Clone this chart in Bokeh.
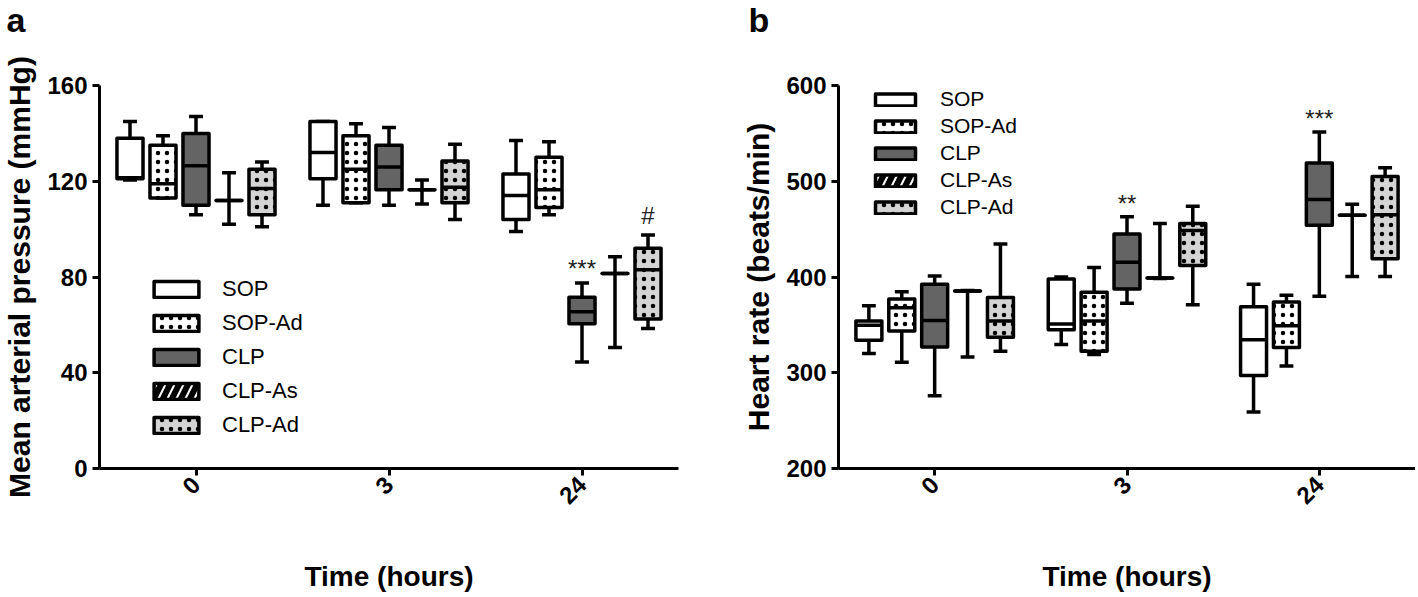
import math
from bokeh.plotting import figure
from bokeh.layouts import row, column
from bokeh.models import ColumnDataSource, FixedTicker, Legend, LegendItem
from bokeh.core.properties import value
from bokeh.embed import file_html
from bokeh.resources import INLINE

# ---------------- data ----------------
times = ["0", "3", "24"]
groups = ["SOP", "SOP-Ad", "CLP", "CLP-As", "CLP-Ad"]
panel_letters = ["a", "b"]

# five-number summaries (min, q1, median, q3, max) at 0, 3, 24 h
map_SOP = [(120.5, 121, 121.5, 138, 145), (110, 121, 132, 145, 145), (99, 104, 114, 123, 137)]
map_SOP_Ad = [(113, 113, 119, 135, 139), (111, 111, 125, 139, 144), (106, 109, 116.5, 130, 136.5)]
map_CLP = [(106, 110, 126.5, 140, 147), (110, 116.5, 126, 135, 142.5), (44.5, 60.5, 65.5, 71.5, 77.5)]
map_CLP_As = [(102, 112, 112, 112, 123.5), (110.5, 116.5, 116.5, 116.5, 120.5), (50.5, 81.5, 81.5, 81.5, 88.5)]
map_CLP_Ad = [(101, 106, 117, 125, 128), (104, 111, 117.5, 128.5, 135.5), (58.5, 62.5, 83, 92, 97.5)]

hr_SOP = [(320, 334, 349.5, 354, 370), (329.5, 345, 351, 398, 400), (259, 297, 334.5, 369, 392.5)]
hr_SOP_Ad = [(311, 343.5, 368, 377, 384.5), (319, 322.5, 354, 384, 410), (307, 326.5, 349, 374, 381)]
hr_CLP = [(276, 327, 354.5, 392.5, 401), (372.5, 387.5, 415.5, 445, 463), (380, 454, 481, 519, 551.5)]
hr_CLP_As = [(316.5, 385.5, 385.5, 385.5, 386), (398.5, 399, 399, 399, 456), (400.5, 464.5, 464.5, 464.5, 476)]
hr_CLP_Ad = [(322.5, 337, 354, 378.5, 434.5), (371, 412, 448.5, 456, 474), (400.5, 419, 465, 505, 514)]

map_ticks = [0, 40, 80, 120, 160]
hr_ticks = [200, 300, 400, 500, 600]

# significance marks: (time index, group, y, text)
map_sig = [(2, "CLP", 83.5, "***"), (2, "CLP-Ad", 105.5, "#")]
hr_sig = [(1, "CLP", 477, "**"), (2, "CLP", 566, "***")]

# ---------------- style ----------------
FONT = "Liberation Sans"
OFF = 0.171
BW = 0.135
CAP = 0.072
LW = 3.5
STRIP_H = 40

styles = {
    "SOP": dict(fill_color="white"),
    "SOP-Ad": dict(fill_color="white", hatch_pattern="dot", hatch_color="black", hatch_scale=9, hatch_weight=1.8),
    "CLP": dict(fill_color="#646464"),
    "CLP-As": dict(fill_color="white", hatch_pattern="right_diagonal_line", hatch_color="black", hatch_scale=18, hatch_weight=6),
    "CLP-Ad": dict(fill_color="#d4d4d4", hatch_pattern="dot", hatch_color="black", hatch_scale=9, hatch_weight=1.8),
}


def make_panel(stats, ylabel, yrange, yticks, w, h, bl, bt, br, bb, leg, sig):
    p = figure(width=w, height=h, x_range=(-0.5, 2.5), y_range=yrange, title=None,
               output_backend="svg", toolbar_location=None,
               min_border_left=bl, min_border_top=bt, min_border_right=br, min_border_bottom=bb)
    p.grid.visible = False
    p.outline_line_color = None
    p.background_fill_color = "white"

    rends = {}
    for gi, g in enumerate(groups):
        s = stats[g]
        xs = [i + (gi - 2) * OFF for i in range(len(times))]
        src = ColumnDataSource(dict(
            x=xs,
            lo=[v[0] for v in s], q1=[v[1] for v in s], med=[v[2] for v in s],
            q3=[v[3] for v in s], hi=[v[4] for v in s],
            cl=[x - CAP / 2 for x in xs], cr=[x + CAP / 2 for x in xs],
            bl=[x - BW / 2 for x in xs], br=[x + BW / 2 for x in xs],
        ))
        p.segment("x", "q3", "x", "hi", source=src, line_color="black", line_width=LW)
        p.segment("x", "lo", "x", "q1", source=src, line_color="black", line_width=LW)
        p.segment("cl", "hi", "cr", "hi", source=src, line_color="black", line_width=LW)
        p.segment("cl", "lo", "cr", "lo", source=src, line_color="black", line_width=LW)
        r = p.vbar(x="x", width=BW, bottom="q1", top="q3", source=src,
                   line_color="black", line_width=LW, line_join="round", **styles[g])
        p.segment("bl", "med", "br", "med", source=src, line_color="black", line_width=LW)
        rends[g] = r

    # significance text
    sx = [t + (groups.index(g) - 2) * OFF for t, g, y, s in sig]
    sy = [y for t, g, y, s in sig]
    st = [s for t, g, y, s in sig]
    p.text(x=sx, y=sy, text=st, text_align="center", text_baseline="middle",
           text_font=value(FONT), text_font_size="24px", text_color="#222222")

    legend = Legend(items=[LegendItem(label=g, renderers=[rends[g]]) for g in groups],
                    location=leg["loc"], glyph_width=leg["gw"], glyph_height=leg["gh"],
                    label_height=leg["gh"], label_standoff=leg["standoff"], spacing=leg["spacing"],
                    padding=0, margin=0, background_fill_alpha=0, border_line_alpha=0,
                    label_text_font=FONT, label_text_font_size=leg["fs"], label_text_color="black")
    p.add_layout(legend)

    p.xaxis.ticker = FixedTicker(ticks=[0, 1, 2])
    p.xaxis.major_label_overrides = {i: t for i, t in enumerate(times)}
    p.xaxis.major_label_orientation = math.pi / 4
    p.xaxis.axis_label = "Time (hours)"
    p.xaxis.axis_label_standoff = 47
    p.yaxis.ticker = FixedTicker(ticks=yticks)
    p.yaxis.axis_label = ylabel
    p.yaxis.axis_label_standoff = 8
    for ax in (p.xaxis[0], p.yaxis[0]):
        ax.axis_line_width = 3
        ax.axis_line_color = "black"
        ax.major_tick_line_width = 3
        ax.major_tick_line_color = "black"
        ax.major_tick_out = 7
        ax.major_tick_in = 0
        ax.minor_tick_line_color = None
        ax.major_label_text_font = FONT
        ax.major_label_text_font_size = "24px"
        ax.major_label_text_font_style = "bold"
        ax.major_label_text_color = "black"
        ax.axis_label_text_font = FONT
        ax.axis_label_text_font_style = "bold"
        ax.axis_label_text_color = "black"
    p.yaxis.axis_label_text_font_size = "30px"
    p.xaxis.axis_label_text_font_size = "28px"
    return p


map_stats = {"SOP": map_SOP, "SOP-Ad": map_SOP_Ad, "CLP": map_CLP, "CLP-As": map_CLP_As, "CLP-Ad": map_CLP_Ad}
hr_stats = {"SOP": hr_SOP, "SOP-Ad": hr_SOP_Ad, "CLP": hr_CLP, "CLP-As": hr_CLP_As, "CLP-Ad": hr_CLP_Ad}

WA, WB = 738, 677
PH = 597 - STRIP_H
TOP = 85 - STRIP_H

pa = make_panel(map_stats, "Mean arterial pressure (mmHg)", (0, 160), map_ticks,
                WA, PH, 98, TOP, 60, 129,
                dict(loc=(49, 30), gw=56, gh=20, standoff=18, spacing=8, fs="22px"),
                map_sig)
pb = make_panel(hr_stats, "Heart rate (beats/min)", (200, 600), hr_ticks,
                WB, PH, 100, TOP, 0, 129,
                dict(loc=(32, 249), gw=50, gh=15, standoff=20, spacing=3, fs="21px"),
                hr_sig)

# strip holding the panel letters
strip = figure(width=WA + WB, height=STRIP_H, x_range=(0, WA + WB), y_range=(0, STRIP_H),
               x_axis_type=None, y_axis_type=None, title=None,
               output_backend="svg", toolbar_location=None, min_border=0)
strip.grid.visible = False
strip.outline_line_color = None
strip.text(x=[6, WA + 10], y=[STRIP_H, STRIP_H], text=panel_letters, text_align="left",
           text_baseline="top", text_font=value(FONT), text_font_size="34px",
           text_font_style="bold", text_color="black")

layout = column(strip, row(pa, pb, spacing=0), spacing=0)
open("out.html", "w").write(file_html(layout, INLINE))
